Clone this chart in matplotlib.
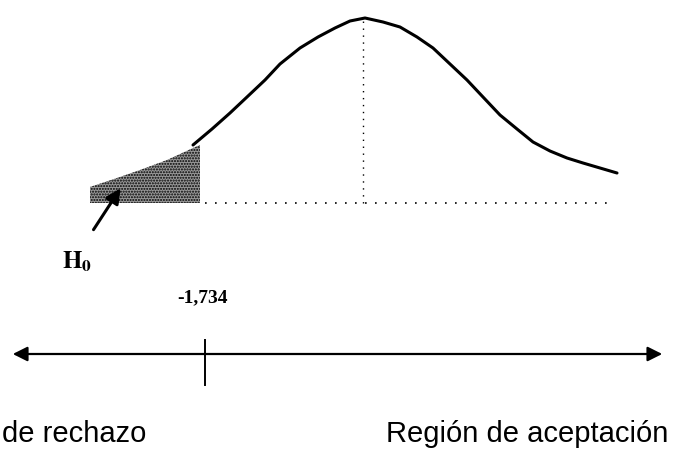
import matplotlib
matplotlib.use("Agg")
import matplotlib.pyplot as plt

# curve: x position and height above the dotted baseline
curve_x = [193, 212, 230, 247, 265, 280, 300, 318, 335, 350, 365, 383, 400,
           417, 433, 450, 467, 483, 500, 517, 533, 550, 567, 583, 600, 617]
curve_h = [58, 74, 90, 106, 123, 139, 155, 166, 175, 182, 185, 181, 176,
           166, 155, 139, 123, 106, 88, 74, 61, 52, 45, 40, 35, 30]

# rejection tail (shaded)
tail_x = [90, 117, 140, 167, 193, 200]
tail_h = [16, 25, 33, 43, 55, 58]

mean_x = 363
crit_x = 205
crit_label = "-1,734"
left_label = "de rechazo"
right_label = "Región de aceptación"

fig = plt.figure(figsize=(6.73, 4.49), dpi=100)
ax = fig.add_axes([0, 0, 1, 1])
ax.set_xlim(0, 673)
ax.set_ylim(-246, 203)
ax.axis("off")

ax.plot(curve_x, curve_h, color="black", lw=2.2, solid_joinstyle="round",
        solid_capstyle="round")
ax.fill_between(tail_x, 0, tail_h, facecolor="0.6", edgecolor="black",
                hatch="......", linewidth=0)

# dotted guides
ax.plot([mean_x, mean_x], [0, max(curve_h)], color="black", lw=1,
        linestyle=(0, (1, 4)))
ax.plot([crit_x, 612], [0, 0], color="black", lw=1.2, linestyle=(0, (1, 5)))

# arrow pointing at the tail
ax.annotate("", xy=(122, 17), xytext=(92, -29),
            arrowprops=dict(arrowstyle="-|>", color="black", lw=2.2,
                            mutation_scale=22))
ax.text(62, -59, r"$\mathbf{H_0}$", fontsize=18, family="serif",
        ha="left", va="center", math_fontfamily="stix")

# number line
ax.annotate("", xy=(10, -151), xytext=(665, -151),
            arrowprops=dict(arrowstyle="<|-|>", color="black", lw=1.6,
                            mutation_scale=22))
ax.plot([crit_x, crit_x], [-137, -182], color="black", lw=1.4)
ax.text(203, -95, crit_label, fontsize=14, fontweight="bold",
        family="Liberation Serif", ha="center", va="center")

ax.text(2, -239, left_label, fontsize=21, family="Liberation Sans",
        ha="left", va="baseline")
ax.text(668, -239, right_label, fontsize=21, family="Liberation Sans",
        ha="right", va="baseline")

fig.savefig("out.png", dpi=100)
